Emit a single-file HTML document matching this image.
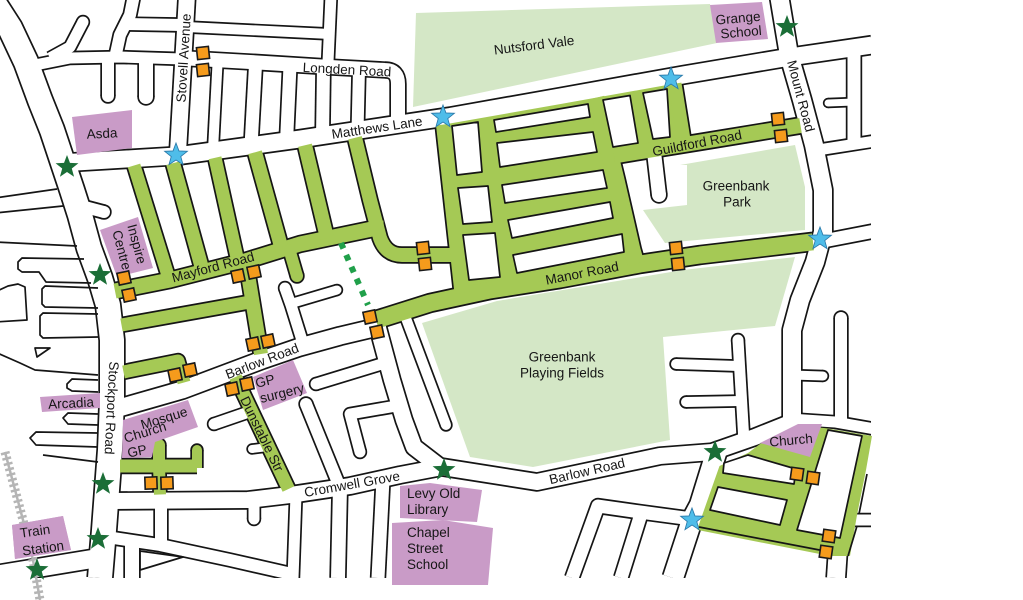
<!DOCTYPE html>
<html><head><meta charset="utf-8"><title>Map</title>
<style>
html,body{margin:0;padding:0;background:#fff;overflow:hidden}
svg{display:block}
text{font-family:"Liberation Sans",Arial,sans-serif;fill:#161616;font-size:13.5px}
</style></head><body>
<svg width="1023" height="600" viewBox="0 0 1023 600" xmlns="http://www.w3.org/2000/svg" xmlns:xlink="http://www.w3.org/1999/xlink">
<defs>
<path id="st" d="M0,-1L0.2469,-0.3398L0.9511,-0.309L0.3995,0.1298L0.5878,0.809L0,0.42L-0.5878,0.809L-0.3995,0.1298L-0.9511,-0.309L-0.2469,-0.3398Z"/>
<clipPath id="cp"><rect x="-20" y="-20" width="891" height="598"/></clipPath>
<path id="wa" d="M-8,0 L10,28 L26,62 L40,100 L52,130 L62,160 L72,190 L80,215 L89,248 L100,278 L108,305 L112,340 L112,400 L110,450 L107,490 L104,530 L100,578"/>
<path id="wb" d="M60,163 L176,156 L300,139 L450,116.5 L560,97 L683,75 L790,57 L872,45"/>
<path id="wc" d="M30,66 L70,58 L120,57 L182,59"/>
<path id="wd" d="M50,58 L70,47 L83,22"/>
<path id="we" d="M115,58 L120,35 L130,15 L134,-5"/>
<path id="wf" d="M125,24 L182,25"/>
<path id="wg" d="M187,-5 L178,152"/>
<path id="wh" d="M180,58 L250,62 L330,67 L385,70 Q398,70 398,84 L398,126"/>
<path id="wi" d="M331,-5 L328,62"/>
<path id="wj" d="M187,27 L330,34"/>
<path id="wk1" d="M217.5,64 L213,150"/>
<path id="wk2" d="M255.5,65 L251,146"/>
<path id="wk3" d="M290,66 L286.5,142"/>
<path id="wk4" d="M323.5,67 L322.5,137"/>
<path id="wk5" d="M359,69 L357.5,132"/>
<path id="wl" d="M779,-5 L789,55 L802,100 L814,145 L823,190 L823,232 L815,262 L800,300 L792,330 L792,425"/>
<path id="wm" d="M818,150 L875,141"/>
<path id="wn" d="M854,48 L854,146"/>
<path id="wo" d="M854,102 L828,103"/>
<path id="wp" d="M818,242 L875,231"/>
<path id="wq" d="M112,410 L182,390 L262,360 L300,347 L340,336 L378,327"/>
<path id="wr" d="M378,328 L392,380 L404,420 L414,447 L440,467"/>
<path id="ws" d="M404,313 L446,425"/>
<path id="wt" d="M112,501 L248,500 L290,495 L350,486 L400,475 L442,467 L537,482 L660,456 L712,452 L755,437 L800,419"/>
<path id="wu" d="M790,419 L835,422 L875,429"/>
<path id="wv" d="M717,450 L700,505 L692,520 L673,578"/>
<path id="ww" d="M692,519 L640,512 L598,506 L572,578"/>
<path id="wx" d="M641,514 L621,578"/>
<path id="wy" d="M744,442 L738,340"/>
<path id="wz" d="M738,366 L676,364"/>
<path id="w1" d="M741,401 L686,402"/>
<path id="w2" d="M792,375 L823,376"/>
<path id="w3" d="M841,424 L841,318"/>
<path id="w4" d="M-5,575 L92,559"/>
<path id="w5" d="M161,500 L161,545"/>
<path id="w6" d="M100,536 L160,545 L230,560 L296,575"/>
<path id="w7" d="M132,540 L132,578"/>
<path id="w8" d="M296,495 L293,578"/>
<path id="w9" d="M340,487 L338,578"/>
<path id="w10" d="M383,479 L378,578"/>
<path id="w11" d="M254,500 L254,519"/>
<path id="w12" d="M268,447 L252,449"/>
<path id="w13" d="M246,413 L214,424"/>
<path id="w14" d="M305,350 L291,305 L285,288"/>
<path id="w15" d="M293,303 L337,290"/>
<path id="w16" d="M388,362 L316,384"/>
<path id="w17" d="M402,405 L350,414 L360,452"/>
<path id="w18" d="M341,490 L306,404"/>
<path id="w19" d="M108,57 L108,96"/>
<path id="w20" d="M146,57 L146,97"/>
<path id="w21" d="M85,207 L104,212"/>
<path id="w22" d="M654,152 L659,195"/>
<path id="w23" d="M838,548 L836,578"/>
<path id="w24" d="M855,520 L875,520"/>
<path id="ga" d="M115,291 L170,280 L245,261 L300,244 L372,229 L384,228"/>
<path id="gb" d="M134,165.5 L170,282"/>
<path id="gc" d="M173,163.2 L203,272"/>
<path id="gd" d="M215,157.8 L238,262"/>
<path id="ge" d="M255,152.3 L282,250"/>
<path id="gf" d="M288,245 L297,276"/>
<path id="gg" d="M305,145.3 L327,238"/>
<path id="gh" d="M355,137.8 L370,200 L380,238 Q386,255 402,255 L452,255"/>
<path id="gi" d="M246,262 L261,354"/>
<path id="gj" d="M121.5,325 L250,302"/>
<path id="gk" d="M123.5,372 L178,361 L184,382.5"/>
<path id="gl" d="M235.5,377 L288.5,489"/>
<path id="gm" d="M120,466 L197,466"/>
<path id="gm2" d="M197,468 L197,450"/>
<path id="gm3" d="M159,468 L159,445"/>
<path id="gm4" d="M159,466 L160,494.5"/>
<path id="gn" d="M376,320 L430,303 L490,290 L560,279 L640,264 L700,255 L760,248 L813,241.8"/>
<path id="go" d="M443.5,124.6 L462,293"/>
<path id="gp" d="M596,97.7 L616,180 L632,250 L636,264"/>
<path id="gq" d="M675,83.6 L685,146"/>
<path id="gr" d="M614,156 L700,142 L800.5,125.5"/>
</defs>

<!-- parks -->
<g fill="#d4e7c6">
<polygon points="416,13 710,4 717,43 413,107"/>
<polygon points="680,165 795,145 805,187 805,230 665,243 643,210 687,205 687,165"/>
<polygon points="422,323 497,301 683,270 795,257 775,326 663,337 670,440 533,467 470,457"/>
</g>

<g clip-path="url(#cp)" fill="none" stroke-linejoin="round">
<!-- black outlines -->
<g stroke="#151515">
<use href="#wa" stroke-width="27.4"/>
<use href="#wb" stroke-width="20.4"/>
<use href="#wc" stroke-width="14.4"/>
<use href="#wd" stroke-width="14.4"/>
<use href="#we" stroke-width="15.4"/>
<use href="#wf" stroke-width="15.4"/>
<use href="#wg" stroke-width="19.4"/>
<use href="#wh" stroke-width="17.4"/>
<use href="#wi" stroke-width="14.4"/>
<use href="#wj" stroke-width="13.4"/>
<use href="#wk1" stroke-width="13.4"/>
<use href="#wk2" stroke-width="16.4"/>
<use href="#wk3" stroke-width="16.4"/>
<use href="#wk4" stroke-width="16.4"/>
<use href="#wk5" stroke-width="15.4"/>
<use href="#wl" stroke-width="21.4"/>
<use href="#wm" stroke-width="14.4"/>
<use href="#wn" stroke-width="16.4"/>
<use href="#wo" stroke-width="10.4"/>
<use href="#wp" stroke-width="16.4"/>
<use href="#wq" stroke-width="20.4"/>
<use href="#wr" stroke-width="19.4"/>
<use href="#ws" stroke-width="13.4"/>
<use href="#wt" stroke-width="19.4"/>
<use href="#wu" stroke-width="14.4"/>
<use href="#wv" stroke-width="23.4"/>
<use href="#ww" stroke-width="16.4"/>
<use href="#wx" stroke-width="16.4"/>
<use href="#wy" stroke-width="14.4"/>
<use href="#wz" stroke-width="13.4"/>
<use href="#w1" stroke-width="13.4"/>
<use href="#w2" stroke-width="12.4"/>
<use href="#w3" stroke-width="15.4"/>
<use href="#w4" stroke-width="21.4"/>
<use href="#w5" stroke-width="15.4"/>
<use href="#w6" stroke-width="15.4"/>
<use href="#w7" stroke-width="17.4"/>
<use href="#w8" stroke-width="14.4"/>
<use href="#w9" stroke-width="17.4"/>
<use href="#w10" stroke-width="16.4"/>
<use href="#w11" stroke-width="14.4"/>
<use href="#w12" stroke-width="11.4"/>
<use href="#w13" stroke-width="14.4"/>
<use href="#w14" stroke-width="14.4"/>
<use href="#w15" stroke-width="12.4"/>
<use href="#w16" stroke-width="14.4"/>
<use href="#w17" stroke-width="14.4"/>
<use href="#w18" stroke-width="15.4"/>
<use href="#w19" stroke-width="15.4"/>
<use href="#w20" stroke-width="17.4"/>
<use href="#w21" stroke-width="15.4"/>
<use href="#w22" stroke-width="17.4"/>
<use href="#w23" stroke-width="21.4"/>
<use href="#w24" stroke-width="14.4"/>
<use href="#ga" stroke-width="18.4"/>
<use href="#gb" stroke-width="16.4"/>
<use href="#gc" stroke-width="17.4"/>
<use href="#gd" stroke-width="16.4"/>
<use href="#ge" stroke-width="17.4"/>
<use href="#gf" stroke-width="15.4"/>
<use href="#gg" stroke-width="17.4"/>
<use href="#gh" stroke-width="17.4"/>
<use href="#gi" stroke-width="17.4"/>
<use href="#gj" stroke-width="16.4"/>
<use href="#gk" stroke-width="16.4"/>
<use href="#gl" stroke-width="16.4"/>
<use href="#gm" stroke-width="16.4"/>
<use href="#gm2" stroke-width="13.4"/>
<use href="#gm3" stroke-width="15.4"/>
<use href="#gm4" stroke-width="15.4"/>
<use href="#gn" stroke-width="20.4"/>
<use href="#go" stroke-width="18.4"/>
<use href="#gp" stroke-width="20.4"/>
<use href="#gq" stroke-width="16.4"/>
<use href="#gr" stroke-width="18.4"/>
</g>
<g fill="#151515" stroke="none">
<circle cx="83" cy="22" r="7.2"/><circle cx="828" cy="103" r="5.2"/><circle cx="446" cy="425" r="6.7"/>
<circle cx="738" cy="340" r="7.2"/><circle cx="676" cy="364" r="6.7"/><circle cx="686" cy="402" r="6.7"/>
<circle cx="823" cy="376" r="6.2"/><circle cx="841" cy="318" r="7.7"/><circle cx="254" cy="519" r="7.2"/>
<circle cx="252" cy="449" r="5.7"/><circle cx="214" cy="424" r="7.2"/><circle cx="285" cy="288" r="7.2"/>
<circle cx="337" cy="290" r="6.2"/><circle cx="316" cy="384" r="7.2"/><circle cx="360" cy="452" r="7.2"/>
<circle cx="306" cy="404" r="7.7"/><circle cx="108" cy="96" r="7.7"/><circle cx="146" cy="97" r="8.7"/>
<circle cx="104" cy="212" r="7.7"/><circle cx="659" cy="195" r="8.7"/>
<circle cx="297" cy="276" r="7.7"/><circle cx="197" cy="450" r="6.7"/><circle cx="159" cy="445" r="7.7"/>
</g>
<!-- white fills -->
<g stroke="#fff">
<use href="#wa" stroke-width="24"/>
<use href="#wb" stroke-width="17"/>
<use href="#wc" stroke-width="11"/>
<use href="#wd" stroke-width="11"/>
<use href="#we" stroke-width="12"/>
<use href="#wf" stroke-width="12"/>
<use href="#wg" stroke-width="16"/>
<use href="#wh" stroke-width="14"/>
<use href="#wi" stroke-width="11"/>
<use href="#wj" stroke-width="10"/>
<use href="#wk1" stroke-width="10"/>
<use href="#wk2" stroke-width="13"/>
<use href="#wk3" stroke-width="13"/>
<use href="#wk4" stroke-width="13"/>
<use href="#wk5" stroke-width="12"/>
<use href="#wl" stroke-width="18"/>
<use href="#wm" stroke-width="11"/>
<use href="#wn" stroke-width="13"/>
<use href="#wo" stroke-width="7"/>
<use href="#wp" stroke-width="13"/>
<use href="#wq" stroke-width="17"/>
<use href="#wr" stroke-width="16"/>
<use href="#ws" stroke-width="10"/>
<use href="#wt" stroke-width="16"/>
<use href="#wu" stroke-width="11"/>
<use href="#wv" stroke-width="20"/>
<use href="#ww" stroke-width="13"/>
<use href="#wx" stroke-width="13"/>
<use href="#wy" stroke-width="11"/>
<use href="#wz" stroke-width="10"/>
<use href="#w1" stroke-width="10"/>
<use href="#w2" stroke-width="9"/>
<use href="#w3" stroke-width="12"/>
<use href="#w4" stroke-width="18"/>
<use href="#w5" stroke-width="12"/>
<use href="#w6" stroke-width="12"/>
<use href="#w7" stroke-width="14"/>
<use href="#w8" stroke-width="11"/>
<use href="#w9" stroke-width="14"/>
<use href="#w10" stroke-width="13"/>
<use href="#w11" stroke-width="11"/>
<use href="#w12" stroke-width="8"/>
<use href="#w13" stroke-width="11"/>
<use href="#w14" stroke-width="11"/>
<use href="#w15" stroke-width="9"/>
<use href="#w16" stroke-width="11"/>
<use href="#w17" stroke-width="11"/>
<use href="#w18" stroke-width="12"/>
<use href="#w19" stroke-width="12"/>
<use href="#w20" stroke-width="14"/>
<use href="#w21" stroke-width="12"/>
<use href="#w22" stroke-width="14"/>
<use href="#w23" stroke-width="18"/>
<use href="#w24" stroke-width="11"/>
</g>
<g fill="#fff" stroke="none">
<circle cx="83" cy="22" r="5.5"/><circle cx="828" cy="103" r="3.5"/><circle cx="446" cy="425" r="5"/>
<circle cx="738" cy="340" r="5.5"/><circle cx="676" cy="364" r="5"/><circle cx="686" cy="402" r="5"/>
<circle cx="823" cy="376" r="4.5"/><circle cx="841" cy="318" r="6"/><circle cx="254" cy="519" r="5.5"/>
<circle cx="252" cy="449" r="4"/><circle cx="214" cy="424" r="5.5"/><circle cx="285" cy="288" r="5.5"/>
<circle cx="337" cy="290" r="4.5"/><circle cx="316" cy="384" r="5.5"/><circle cx="360" cy="452" r="5.5"/>
<circle cx="306" cy="404" r="6"/><circle cx="108" cy="96" r="6"/><circle cx="146" cy="97" r="7"/>
<circle cx="104" cy="212" r="6"/><circle cx="659" cy="195" r="7"/>
</g>
</g>

<!-- green regions -->
<g fill="#a5c955">
<polygon points="443.5,124.6 560,104.1 676,83.4 685,144.4 610,156.5 616,180 632,250 636,264.8 560,279 490,290 462,296"/>
<polygon points="697.7,528 719.5,466 748,453 760,444 798,425 828,428.5 872,436 866,470 857,515 850,556 830,556 697.7,530"/>
</g>
<!-- green road fills -->
<g fill="none" stroke="#a5c955" stroke-linejoin="round">
<use href="#ga" stroke-width="15"/>
<use href="#gb" stroke-width="13"/>
<use href="#gc" stroke-width="14"/>
<use href="#gd" stroke-width="13"/>
<use href="#ge" stroke-width="14"/>
<use href="#gf" stroke-width="12"/>
<use href="#gg" stroke-width="14"/>
<use href="#gh" stroke-width="14"/>
<use href="#gi" stroke-width="14"/>
<use href="#gj" stroke-width="13"/>
<use href="#gk" stroke-width="13"/>
<use href="#gl" stroke-width="13"/>
<use href="#gm" stroke-width="13"/>
<use href="#gm2" stroke-width="10"/>
<use href="#gm3" stroke-width="12"/>
<use href="#gm4" stroke-width="12"/>
<use href="#gn" stroke-width="17"/>
<use href="#go" stroke-width="15"/>
<use href="#gp" stroke-width="17"/>
<use href="#gq" stroke-width="13"/>
<use href="#gr" stroke-width="15"/>
</g>
<g fill="#a5c955"><circle cx="297" cy="276" r="6"/><circle cx="197" cy="450" r="5"/><circle cx="159" cy="445" r="6"/></g>

<!-- blocks within green areas -->
<g fill="#fff" stroke="#151515" stroke-width="1.7" stroke-linejoin="round">
<polygon points="452,126 478,122 482,172 457,175"/>
<polygon points="458,188 488,186 492,222 463,224"/>
<polygon points="463,235 495,233 500,277 469,280"/>
<polygon points="494,120 588,104 590,117 496,132"/>
<polygon points="497,143 593,132 597,152 500,167"/>
<polygon points="502,185 603,170 607,188 505,203"/>
<polygon points="508,220 610,202 613,218 512,238"/>
<polygon points="513,255 622,234 624,252 517,273"/>
<polygon points="603,100 630,95.5 638,143 613,147"/>
<polygon points="643,93 667,89 670,137 653,139"/>
<polygon points="748,455 796,469 794,484 723,473 724,463"/>
<polygon points="718,487 787,500 780,525 710,510"/>
<polygon points="828,430 862,436 840,538 797,530"/>
</g>
<g fill="none" stroke="#151515" stroke-width="1.7" stroke-linejoin="round">
<polyline points="699,527 830,552"/>
<polyline points="848,556 857,526"/>
<polyline points="859,514 867,474"/>
<!-- west of Stockport -->
<polyline points="-5,198 57,189"/>
<polyline points="-5,213 63,206"/>
<polyline points="77,246 -5,242"/>
<polyline points="84,259 22,258 18,262 18,269 22,272 39,272 46,282 91,283"/>
<polyline points="-5,292 8,286 18,284 25,287 27,320 -5,322"/>
<polyline points="98,288 45,286 42,289 42,304 45,307 98,308"/>
<polyline points="98,314 43,313 40,316 40,335 43,338 98,337"/>
<polygon points="35,348 50,348 37,357"/>
<polyline points="-5,352 20,363 35,370 98,375"/>
<polyline points="98,380 72,379 67,384 67,388 72,391 98,392"/>
<polyline points="98,414 68,413 63,418 68,424 98,425"/>
<polyline points="98,433 36,432 30,438 36,445 98,447"/>
<polyline points="98,462 43,455"/>
<polygon points="140,551 183,557 140,570"/>
</g>

<!-- purple buildings -->
<g fill="#c99bc7">
<polygon points="72,117 132,110 132,148 77,155"/>
<polygon points="100,230 138,217 153,268 117,277"/>
<polygon points="40,397 100,393 100,408 42,412"/>
<polygon points="123,420 188,400 198,427 155,442 152,457 122,458"/>
<polygon points="253,377 293,360 307,393 263,410"/>
<polygon points="400,486 430,483 482,490 477,522 400,518"/>
<polygon points="392,523 443,520 493,528 488,585 392,585"/>
<polygon points="760,443 798,424 822,424 810,457"/>
<polygon points="12,525 63,516 71,550 15,559"/>
<polygon points="710,5 762,2 768,39 716,43"/>
</g>

<!-- railway -->
<polyline points="5,452 23,520 33,560 40,600" fill="none" stroke="#b5b5b5" stroke-width="2.5"/>
<polyline points="5,452 23,520 33,560 40,600" fill="none" stroke="#b5b5b5" stroke-width="9" stroke-dasharray="2.5,3"/>
<polygon points="12,525 63,516 71,550 15,559" fill="#c99bc7"/>

<!-- dotted path -->
<line x1="341" y1="243" x2="368" y2="305" stroke="#20a04a" stroke-width="6" stroke-dasharray="6,7"/>

<!-- orange markers -->
<g fill="#f59b1c" stroke="#1a1a1a" stroke-width="1.6">
<rect x="-6" y="-6" width="12" height="12" transform="translate(203,53) rotate(-6)"/>
<rect x="-6" y="-6" width="12" height="12" transform="translate(203,70) rotate(-6)"/>
<rect x="-6" y="-6" width="12" height="12" transform="translate(124,278) rotate(-12)"/>
<rect x="-6" y="-6" width="12" height="12" transform="translate(129,295) rotate(-12)"/>
<rect x="-6" y="-6" width="12" height="12" transform="translate(238,276) rotate(-12)"/>
<rect x="-6" y="-6" width="12" height="12" transform="translate(254,272) rotate(-12)"/>
<rect x="-6" y="-6" width="12" height="12" transform="translate(253,344) rotate(-12)"/>
<rect x="-6" y="-6" width="12" height="12" transform="translate(268,341) rotate(-12)"/>
<rect x="-6" y="-6" width="12" height="12" transform="translate(175,375) rotate(-12)"/>
<rect x="-6" y="-6" width="12" height="12" transform="translate(190,370) rotate(-12)"/>
<rect x="-6" y="-6" width="12" height="12" transform="translate(232,389) rotate(-12)"/>
<rect x="-6" y="-6" width="12" height="12" transform="translate(247,384) rotate(-12)"/>
<rect x="-6" y="-6" width="12" height="12" transform="translate(151,483) rotate(-2)"/>
<rect x="-6" y="-6" width="12" height="12" transform="translate(167,483) rotate(-2)"/>
<rect x="-6" y="-6" width="12" height="12" transform="translate(370,317) rotate(-12)"/>
<rect x="-6" y="-6" width="12" height="12" transform="translate(377,332) rotate(-12)"/>
<rect x="-6" y="-6" width="12" height="12" transform="translate(423,248) rotate(-6)"/>
<rect x="-6" y="-6" width="12" height="12" transform="translate(425,264) rotate(-6)"/>
<rect x="-6" y="-6" width="12" height="12" transform="translate(676,248) rotate(-6)"/>
<rect x="-6" y="-6" width="12" height="12" transform="translate(678,264) rotate(-6)"/>
<rect x="-6" y="-6" width="12" height="12" transform="translate(778,119) rotate(-6)"/>
<rect x="-6" y="-6" width="12" height="12" transform="translate(781,136) rotate(-6)"/>
<rect x="-6" y="-6" width="12" height="12" transform="translate(797,474) rotate(8)"/>
<rect x="-6" y="-6" width="12" height="12" transform="translate(813,478) rotate(8)"/>
<rect x="-6" y="-6" width="12" height="12" transform="translate(829,536) rotate(8)"/>
<rect x="-6" y="-6" width="12" height="12" transform="translate(826,552) rotate(8)"/>
</g>

<!-- stars -->
<g fill="#1b6e37">
<use href="#st" transform="translate(67,167) scale(12)"/>
<use href="#st" transform="translate(100,275) scale(12)"/>
<use href="#st" transform="translate(787,27) scale(12)"/>
<use href="#st" transform="translate(444,470) scale(12)"/>
<use href="#st" transform="translate(715,452) scale(12)"/>
<use href="#st" transform="translate(103,484) scale(12)"/>
<use href="#st" transform="translate(98,539) scale(12)"/>
<use href="#st" transform="translate(37,570) scale(12)"/>
</g>
<g fill="#4fbde9" stroke="#2a78a8" stroke-width="0.07">
<use href="#st" transform="translate(176,155) scale(12)"/>
<use href="#st" transform="translate(443,117) scale(12)"/>
<use href="#st" transform="translate(671,79) scale(12)"/>
<use href="#st" transform="translate(820,239) scale(12)"/>
<use href="#st" transform="translate(692,520) scale(12)"/>
</g>

<!-- labels -->
<g text-anchor="middle">
<text x="0" y="4.7" transform="translate(347,69.5) rotate(3)">Longden Road</text>
<text x="0" y="4.7" transform="translate(183.5,58) rotate(-86.6)">Stovell Avenue</text>
<text x="0" y="5" font-size="14" transform="translate(102,133) rotate(-3)">Asda</text>
<text x="0" y="4.7" font-size="14" transform="translate(377,127.5) rotate(-8.5)">Matthews Lane</text>
<text x="0" y="4.7" font-size="14" transform="translate(213,267) rotate(-15)">Mayford Road</text>
<text x="0" y="4.7" transform="translate(137,244) rotate(75)">Inspire</text>
<text x="0" y="4.7" transform="translate(122,250) rotate(75)">Centre</text>
<text x="0" y="4.7" transform="translate(534,45) rotate(-7)">Nutsford Vale</text>
<text x="0" y="4.7" transform="translate(738,18) rotate(-5)">Grange</text>
<text x="0" y="4.7" transform="translate(741,32) rotate(-5)">School</text>
<text x="0" y="4.7" transform="translate(697,143) rotate(-11)">Guildford Road</text>
<text x="0" y="4.7" transform="translate(801,96) rotate(75)">Mount Road</text>
<text x="736" y="190.7">Greenbank</text>
<text x="737" y="206.7">Park</text>
<text x="0" y="4.7" font-size="13" transform="translate(582,273) rotate(-11)">Manor Road</text>
<text x="562" y="361.7">Greenbank</text>
<text x="562" y="377.7">Playing Fields</text>
<text x="0" y="4.7" font-size="14" transform="translate(262,361) rotate(-21)">Barlow Road</text>
<text x="0" y="4.7" transform="translate(265,381) rotate(-14)">GP</text>
<text x="0" y="4.7" transform="translate(282,393) rotate(-14)">surgery</text>
<text x="0" y="4.7" font-size="14" transform="translate(262,434) rotate(64)">Dunstable Str</text>
<text x="0" y="5" font-size="15" transform="translate(112,408) rotate(93)">Stockport Road</text>
<text x="0" y="4.7" transform="translate(71,403) rotate(-3)">Arcadia</text>
<text x="0" y="4.7" transform="translate(164,418) rotate(-17)">Mosque</text>
<text x="0" y="4.7" transform="translate(145,432) rotate(-17)">Church</text>
<text x="0" y="4.7" transform="translate(137,451) rotate(-12)">GP</text>
<text x="0" y="4.7" font-size="14" transform="translate(352,484) rotate(-10)">Cromwell Grove</text>
<text x="0" y="4.7" font-size="14" transform="translate(587,471) rotate(-13)">Barlow Road</text>
<text x="0" y="4.7" transform="translate(791,440) rotate(-5)">Church</text>
<text x="0" y="4.7" transform="translate(35,531) rotate(-8)">Train</text>
<text x="0" y="4.7" transform="translate(43,548) rotate(-8)">Station</text>
</g>
<g text-anchor="start">
<text x="407" y="498" font-size="14">Levy Old</text>
<text x="407" y="514" font-size="14">Library</text>
<text x="407" y="537">Chapel</text>
<text x="407" y="553">Street</text>
<text x="407" y="569">School</text>
</g>
</svg>
</body></html>
